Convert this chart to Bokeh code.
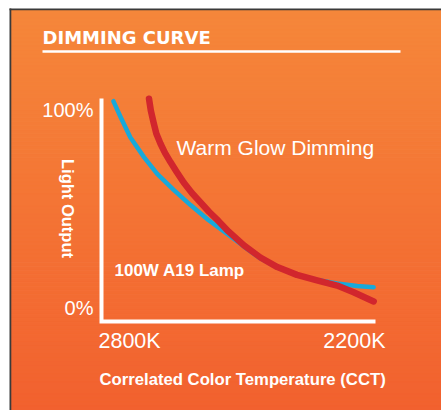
import numpy as np
from bokeh.plotting import figure
from bokeh.models import Range1d
from bokeh.core.properties import value
from bokeh.embed import file_html
from bokeh.resources import INLINE

# ---- data ----
x_ticks = [2800, 2200]
x_tick_labels = ["2800K", "2200K"]
y_ticks = [0, 100]
y_tick_labels = ["0%", "100%"]

# standard lamp (blue)
blue_cct = [2774, 2758, 2737, 2707, 2678, 2642, 2605, 2566, 2526, 2488, 2452, 2415,
            2372, 2328, 2284, 2240, 2204]
blue_out = [98.8, 91.6, 82.6, 73.7, 66.2, 59.0, 52.2, 45.5, 39.5, 33.6, 28.3, 24.2,
            20.9, 18.6, 17.0, 15.9, 15.4]
# warm glow (red)
red_cct = [2696, 2692, 2686, 2680, 2671, 2661, 2649, 2636, 2620, 2602, 2583, 2564,
           2544, 2522, 2488, 2452, 2415, 2372, 2328, 2284, 2248, 2204]
red_out = [99.9, 94.6, 89.2, 84.3, 79.8, 75.6, 71.5, 67.3, 62.3, 57.6, 53.4, 49.1,
           45.1, 40.4, 34.1, 28.7, 24.4, 20.9, 18.4, 16.1, 13.1, 9.0]

title = "DIMMING CURVE"
x_title = "Correlated Color Temperature (CCT)"
y_title = "Light Output"
warm_label = "Warm Glow Dimming"
lamp_label = "100W A19 Lamp"

# ---- layout ----
W, H = 441, 410
AXL, AXR, AXT, AXB = 101, 375, 98, 321  # px of axis box

kpp = (x_ticks[0] - x_ticks[1]) / (AXR - AXL)
x_start = x_ticks[0] + AXL * kpp
x_end = x_ticks[1] - (W - AXR) * kpp
ppp = (y_ticks[1] - y_ticks[0]) / (AXB - AXT)
y_end = y_ticks[1] + AXT * ppp
y_start = y_ticks[0] - (H - AXB) * ppp

p = figure(width=W, height=H, x_range=Range1d(x_start, x_end),
           y_range=Range1d(y_start, y_end), output_backend="svg",
           toolbar_location=None, x_axis_location=None, y_axis_location=None,
           min_border=0, min_border_left=0, min_border_right=0,
           min_border_top=0, min_border_bottom=0)
p.grid.visible = False
p.outline_line_color = None
p.background_fill_color = "white"
p.border_fill_color = "white"
p.extra_x_ranges = {"px": Range1d(0, W)}
p.extra_y_ranges = {"px": Range1d(H, 0)}

PX = dict(x_range_name="px", y_range_name="px")

# background gradient
TOP0 = 9
n = 100
edges = np.linspace(TOP0, H, n + 1)
c_top = np.array([245, 135, 58])
c_bot = np.array([242, 97, 47])
cols = []
for i in range(n):
    t = (i + 0.5) / n
    c = (c_top * (1 - t) + c_bot * t).round().astype(int)
    cols.append("#%02x%02x%02x" % tuple(c))
p.quad(left=10, right=W, top=edges[:-1], bottom=edges[1:], fill_color=cols,
       line_color=cols, line_width=1, **PX)

# dark border left/top
p.quad(left=[9, 9], right=[10.8, W], top=[8, 8], bottom=[H, 9.8], fill_color="#3a3a3a",
       line_color=None, **PX)

# title and underline
p.text(x=[42], y=[36.5], text=[title], text_font=value("DejaVu Sans"),
       text_font_style="bold", text_font_size="18px", text_color="white",
       text_baseline="alphabetic", **PX)
p.line(x=[42, 400], y=[51, 51], line_color="white", line_width=2.5, **PX)

# axis lines
p.line(x=[x_ticks[0], x_ticks[0], x_ticks[1]], y=[y_ticks[1], y_ticks[0], y_ticks[0]],
       line_color="white", line_width=4, line_join="miter", line_cap="butt")

# curves
p.line(blue_cct, blue_out, line_color="#18A9DA", line_width=4.5, line_cap="round",
       line_join="round")
p.line(red_cct, red_out, line_color="#D1262D", line_width=6.5, line_cap="round",
       line_join="round")

# tick labels
p.text(x=[93, 93], y=[307, 109], text=y_tick_labels, text_font=value("Liberation Sans"),
       text_font_size="20px", text_color="white", text_align="right",
       text_baseline="alphabetic", **PX)
p.text(x=[98], y=[340], text=[x_tick_labels[0]], text_font=value("Liberation Sans"),
       text_font_size="21.5px", text_color="white", text_align="left",
       text_baseline="alphabetic", **PX)
p.text(x=[385], y=[340], text=[x_tick_labels[1]], text_font=value("Liberation Sans"),
       text_font_size="21.5px", text_color="white", text_align="right",
       text_baseline="alphabetic", **PX)

# axis titles
p.text(x=[99], y=[379], text=[x_title], text_font=value("Liberation Sans"),
       text_font_style="bold", text_font_size="16.7px", text_color="white",
       text_baseline="alphabetic", **PX)
p.text(x=[67], y=[208], text=[y_title], text_font=value("Liberation Sans"),
       text_font_style="bold", text_font_size="16.5px", text_color="white",
       text_baseline="alphabetic", text_align="center", angle=-np.pi / 2, **PX)

# annotations
p.text(x=[176], y=[147], text=[warm_label], text_font=value("Liberation Sans"),
       text_font_size="21px", text_color="white", text_baseline="alphabetic", **PX)
p.text(x=[114], y=[270], text=[lamp_label], text_font=value("Liberation Sans"),
       text_font_style="bold", text_font_size="17px", text_color="white",
       text_baseline="alphabetic", **PX)

open("out.html", "w").write(file_html(p, INLINE))
